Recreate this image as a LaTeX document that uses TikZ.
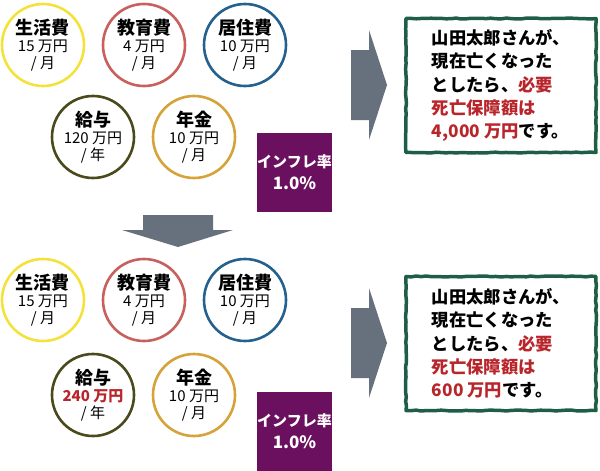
\documentclass[tikz,border=0pt]{standalone}
\usepackage{fontspec}
\setmainfont{Noto Sans CJK JP}
\usepackage{tikz}
\usetikzlibrary{decorations.pathmorphing}

\definecolor{livcol}{HTML}{F4E23C}
\definecolor{educol}{HTML}{C8605E}
\definecolor{housecol}{HTML}{24618F}
\definecolor{wagecol}{HTML}{4A4A1C}
\definecolor{penscol}{HTML}{D6A23A}
\definecolor{inflcol}{HTML}{6B0F5F}
\definecolor{arrcol}{HTML}{66717D}
\definecolor{boxcol}{HTML}{1E5E46}
\definecolor{redtxt}{HTML}{B8262C}

\newcommand{\ttl}[1]{{\fontsize{18}{18}\selectfont\bfseries #1}}

\tikzset{
  cost/.style={circle,draw=#1,line width=2.6pt,minimum size=82pt,inner sep=0pt,
    align=center,font=\fontsize{15}{17}\selectfont},
  infl/.style={fill=inflcol,minimum width=75pt,minimum height=79pt,inner sep=0pt,
    text=white,align=center,font=\bfseries\fontsize{15}{22}\selectfont},
  result/.style={draw=boxcol,line width=3.5pt,minimum width=190pt,minimum height=134pt,
    align=left,font=\bfseries\fontsize{17.3}{23.3}\selectfont,
    decorate,decoration={random steps,segment length=5pt,amplitude=0.5pt}},
  blockarrow/.style={fill=arrcol}
}

\begin{document}
\begin{tikzpicture}[x=1pt,y=-1pt,line join=round]
\useasboundingbox (0,0) rectangle (600,471);

%% ---------------- upper case: salary 120 ----------------
\begin{scope}
  \node[cost=livcol]   (livA)   at (43,45)   {\ttl{生活費}\\15 万円\\/ 月};
  \node[cost=educol]   (eduA)   at (144,45)  {\ttl{教育費}\\4 万円\\/ 月};
  \node[cost=housecol] (houseA) at (245,45)  {\ttl{居住費}\\10 万円\\/ 月};
  \node[cost=wagecol]  (wageA)  at (93,137)  {\ttl{給与}\\120 万円\\/ 年};
  \node[cost=penscol]  (pensA)  at (194,137) {\ttl{年金}\\10 万円\\/ 月};
  \node[infl] (inflA) at (294.5,172.5) {インフレ率\\{\fontsize{17}{17}\selectfont 1.0\%}};
  %% block arrow to the result
  \fill[blockarrow] (351,50) -- (369,50) -- (369,30) -- (387,85) -- (369,140)
     -- (369,120) -- (351,120) -- cycle;
  \node[result] (resA) at (501,85.5)
     {山田太郎さんが、\\現在亡くなった\\としたら、\textcolor{redtxt}{必要}\\
      \textcolor{redtxt}{死亡保障額は}\\\textcolor{redtxt}{4,000 万円}です。};
\end{scope}

%% ---------------- arrow down to the second case ----------------
\fill[blockarrow] (143,215) -- (213,215) -- (213,230) -- (233,230) -- (178,247)
   -- (122,230) -- (143,230) -- cycle;

%% ---------------- lower case: salary 240 ----------------
\begin{scope}
  \node[cost=livcol]   (livB)   at (43,300)  {\ttl{生活費}\\15 万円\\/ 月};
  \node[cost=educol]   (eduB)   at (144,300) {\ttl{教育費}\\4 万円\\/ 月};
  \node[cost=housecol] (houseB) at (245,300) {\ttl{居住費}\\10 万円\\/ 月};
  \node[cost=wagecol]  (wageB)  at (93,395)
     {\ttl{給与}\\\textcolor{redtxt}{\bfseries 240 万円}\\/ 年};
  \node[cost=penscol]  (pensB)  at (194,395) {\ttl{年金}\\10 万円\\/ 月};
  \node[infl] (inflB) at (294.5,431) {インフレ率\\{\fontsize{17}{17}\selectfont 1.0\%}};
  \fill[blockarrow] (351,308) -- (369,308) -- (369,288) -- (387,343) -- (369,398)
     -- (369,378) -- (351,378) -- cycle;
  \node[result] (resB) at (501,343.5)
     {山田太郎さんが、\\現在亡くなった\\としたら、\textcolor{redtxt}{必要}\\
      \textcolor{redtxt}{死亡保障額は}\\\textcolor{redtxt}{600 万円}です。};
\end{scope}

\end{tikzpicture}
\end{document}
